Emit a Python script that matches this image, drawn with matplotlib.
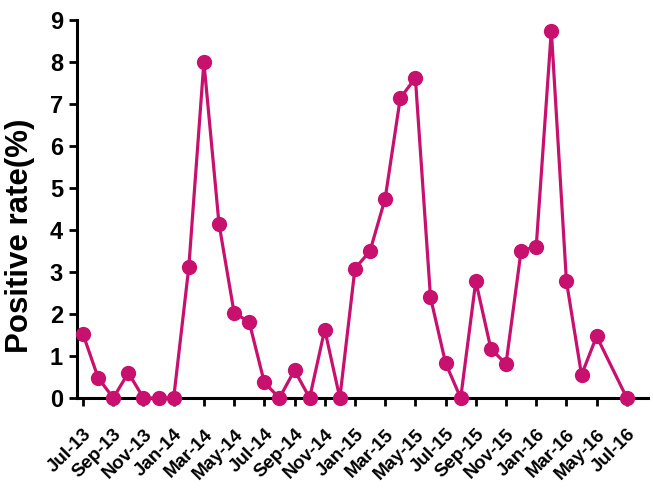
import matplotlib
matplotlib.use("Agg")
import matplotlib.pyplot as plt
import matplotlib.transforms as mtransforms
import numpy as np

plt.rcParams['font.family'] = ['Liberation Sans', 'DejaVu Sans']

# Monthly index 0 = Jul-13 ... 36 = Jul-16 (Jun-16 missing)
month_index = [0, 1, 2, 3, 4, 5, 6, 7, 8, 9, 10, 11, 12, 13, 14, 15, 16, 17,
               18, 19, 20, 21, 22, 23, 24, 25, 26, 27, 28, 29, 30, 31, 32, 33,
               34, 36]
positive_rate = [1.52, 0.48, 0.0, 0.6, 0.0, 0.0, 0.0, 3.11, 8.0, 4.15, 2.03,
                 1.81, 0.37, 0.0, 0.66, 0.0, 1.63, 0.0, 3.08, 3.5, 4.75,
                 7.14, 7.62, 2.4, 0.83, 0.0, 2.78, 1.17, 0.81, 3.51, 3.6,
                 8.75, 2.78, 0.55, 1.47, 0.0]
tick_labels = ['Jul-13', 'Sep-13', 'Nov-13', 'Jan-14', 'Mar-14', 'May-14',
               'Jul-14', 'Sep-14', 'Nov-14', 'Jan-15', 'Mar-15', 'May-15',
               'Jul-15', 'Sep-15', 'Nov-15', 'Jan-16', 'Mar-16', 'May-16',
               'Jul-16']
tick_positions = list(range(0, 37, 2))

color = '#C8106E'

fig = plt.figure(figsize=(6.53, 4.92), dpi=100)
ax = fig.add_axes([77/653, 1 - 398/492, (648-77)/653, (398-20)/492])

ax.plot(month_index, positive_rate, color=color, lw=2.3, marker='o',
        markersize=11, markeredgewidth=0, clip_on=False, zorder=3)

ax.set_xlim(-0.4, 37.4)
ax.set_ylim(0, 9)
ax.set_yticks(range(0, 10))
ax.set_xticks(tick_positions)
ax.set_xticklabels(tick_labels, rotation=45, ha='right', va='top',
                   rotation_mode='anchor', fontsize=13.5, fontweight='bold')
offset = mtransforms.ScaledTranslation(7/72, 0, fig.dpi_scale_trans)
for lab in ax.get_xticklabels():
    lab.set_transform(lab.get_transform() + offset)

for lab in ax.get_yticklabels():
    lab.set_fontsize(17)
    lab.set_fontweight('bold')

for s in ['top', 'right']:
    ax.spines[s].set_visible(False)
for s in ['left', 'bottom']:
    ax.spines[s].set_linewidth(2.2)
ax.tick_params(axis='both', length=6, width=2.0, direction='out')
ax.tick_params(axis='x', pad=14)
ax.tick_params(axis='y', pad=4)

ax.set_ylabel('Positive rate(%)', fontsize=22.5, fontweight='bold')
ax.yaxis.set_label_coords(-0.074, 0.43)

fig.savefig('out.png', dpi=100)
